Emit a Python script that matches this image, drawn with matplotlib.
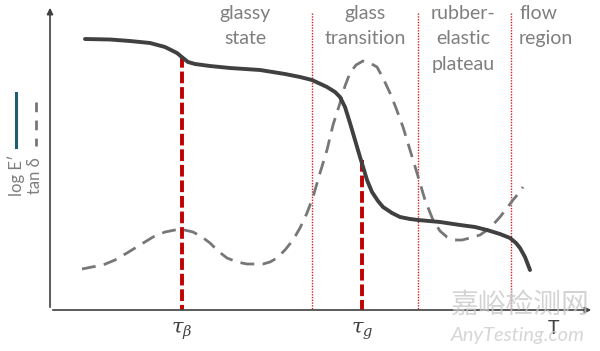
import matplotlib.pyplot as plt

# curves (x = temperature position, y = height, top-down)
logE_x = [85, 110, 130, 150, 165, 177, 183, 188, 195, 210, 230, 260, 285, 300, 312, 327,
          335, 340, 345, 350, 355, 360, 364, 367, 372, 378, 383, 392, 400, 410, 418, 440,
          460, 475, 487, 500, 510, 516, 520, 525, 530]
logE_y = [39, 39.5, 41, 43, 47, 53, 58, 62, 64, 66, 68, 70, 74, 77, 80, 87,
          92, 97, 107, 123, 140, 157, 170, 180, 192, 201, 207, 213, 217, 219, 220, 222,
          225, 227, 230, 234, 238, 243, 248, 257, 270]

tand_x = [82, 92, 103, 115, 127, 140, 153, 165, 180, 193, 202, 210, 218, 227, 237, 247,
          263, 270, 277, 285, 293, 300, 307, 313, 320, 327, 333, 340, 345, 350, 356, 363,
          370, 377, 383, 390, 396, 403, 410, 417, 425, 433, 440, 447, 455, 462, 470, 480,
          490, 500, 507, 513, 518, 523]
tand_y = [269, 267, 265, 260, 253, 245, 237, 232, 229, 232, 237, 243, 251, 258, 262, 264,
          264, 262, 258, 250, 240, 228, 213, 197, 173, 150, 125, 103, 86, 73, 65, 61,
          63, 67, 78, 93, 108, 127, 150, 173, 200, 220, 231, 237, 240, 240, 238, 235,
          228, 217, 208, 200, 194, 187]

tau_x = [182, 362]
tau_top = [56, 160]
tau_labels = [r'$\tau_\beta$', r'$\tau_g$']

region_x = [312, 418, 511]
region_labels = ['glassy\nstate', 'glass\ntransition', 'rubber-\nelastic\nplateau', 'flow\nregion']
region_label_x = [245, 365, 463, 519]

x0, y0 = 50, 310

plt.rcParams['mathtext.fontset'] = 'dejavuserif'
fig = plt.figure(figsize=(6, 3.51), dpi=100)
ax = fig.add_axes([0, 0, 1, 1])
ax.set_xlim(0, 600)
ax.set_ylim(351, 0)
ax.axis('off')

# axes with arrows
ax.annotate('', xy=(x0, 5), xytext=(x0, y0),
            arrowprops=dict(arrowstyle='-|>', color='#404040', lw=1.2, mutation_scale=9))
ax.annotate('', xy=(594, y0), xytext=(x0, y0),
            arrowprops=dict(arrowstyle='-|>', color='#404040', lw=1.2, mutation_scale=9))

# region borders
for x in region_x:
    ax.plot([x, x], [13, y0], color='#d02020', lw=1, ls=(0, (1, 1)))

# tau markers
for x, top in zip(tau_x, tau_top):
    ax.plot([x, x], [top, y0], color='#c00000', lw=2.8, ls=(0, (3, 1)))

ax.plot(tand_x, tand_y, color='#777777', lw=2, ls=(0, (5, 3)))
ax.plot(logE_x, logE_y, color='#404040', lw=2.8, solid_capstyle='round')

font = ['Lato', 'DejaVu Sans']
for i, (lab, x) in enumerate(zip(region_labels, region_label_x)):
    ha = 'left' if i == 3 else 'center'
    ax.text(x, 5, lab, ha=ha, va='top', fontsize=14, color='#7f7f7f',
            family=font, linespacing=1.6)

for x, lab in zip(tau_x, tau_labels):
    ax.text(x, 331, lab, ha='center', va='center', fontsize=15, color='#404040')
ax.text(553, 328, 'T', ha='center', va='center', fontsize=14, color='#404040', family=font)

# legend at the left
ax.plot([16, 16], [93, 147], color='#1f5f6f', lw=2.2)
ax.plot([36, 36], [102, 146], color='#777777', lw=2, ls=(0, (3.5, 3)))
ax.text(16, 175, "log E\u2032", rotation=90, ha='center', va='center', fontsize=12,
        color='#7f7f7f', family=font)
ax.text(35, 176, "tan \u03b4", rotation=90, ha='center', va='center', fontsize=12,
        color='#7f7f7f', family=font)

# watermark
ax.text(520, 305, '嘉峪检测网', ha='center', va='center', fontsize=20, color='#c8c8c8',
        family=['Noto Sans CJK SC', 'DejaVu Sans'], alpha=0.8)
ax.text(518, 335, 'AnyTesting.com', ha='center', va='center', fontsize=14.5, color='#cccccc',
        style='italic', family=font, alpha=0.8)

fig.savefig('out.png', dpi=100)
